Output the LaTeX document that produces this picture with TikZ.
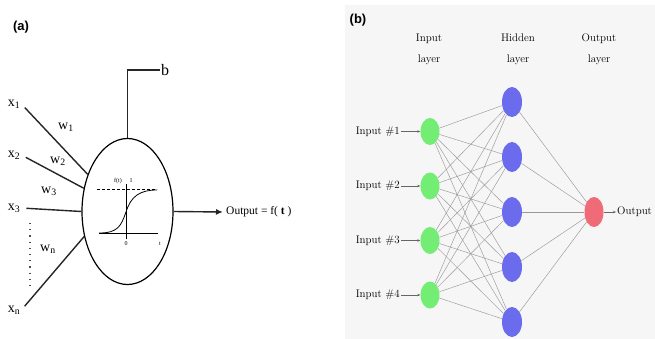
\documentclass[tikz,border=0pt]{standalone}
\usepackage{fontspec}
\newfontfamily\timesfont{Liberation Serif}
\newfontfamily\tagfont{Liberation Sans}
\usetikzlibrary{shapes.geometric,arrows.meta}

\definecolor{ingreen}{rgb}{0.45,0.93,0.45}
\definecolor{hidblue}{rgb}{0.42,0.42,0.93}
\definecolor{outred}{rgb}{0.94,0.42,0.47}
\definecolor{panelgray}{rgb}{0.965,0.965,0.965}

\begin{document}
\begin{tikzpicture}[x=1pt,y=-1pt,
  paneltag/.style={font=\tagfont\bfseries\fontsize{13}{13}\selectfont, inner sep=0pt},
  serif/.style={font=\timesfont\fontsize{14}{14}\selectfont, inner sep=1pt},
  smallserif/.style={font=\timesfont\fontsize{6}{6}\selectfont, inner sep=0pt},
  wire/.style={line width=1.4pt, draw=black!85},
  netlabel/.style={font=\fontsize{11}{21}\selectfont, align=center, inner sep=1pt},
  unit/.style={ellipse, inner sep=0pt, draw=none},
  inunit/.style={unit, fill=ingreen, minimum width=19pt, minimum height=27pt},
  hidunit/.style={unit, fill=hidblue, minimum width=20pt, minimum height=30pt},
  outunit/.style={unit, fill=outred, minimum width=19pt, minimum height=30pt},
  synapse/.style={draw=black!40, line width=0.45pt},
  feed/.style={draw=black!60, line width=0.5pt, -{Stealth[length=3pt,width=2.5pt]}}
]
\clip (0,0) rectangle (655,339);
\fill[white] (0,0) rectangle (655,339);

% ---------- (a) single neuron ----------
\node[paneltag] (taga) at (21,27) {(a)};

\node[draw, ellipse, line width=1.2pt, minimum width=91pt, minimum height=146pt, inner sep=0pt]
  (neuron) at (127.5,211.5) {};

% inputs and weights
\node[serif] (x1) at (14,104) {x\textsubscript{1}};
\node[serif] (x2) at (14,155) {x\textsubscript{2}};
\node[serif] (x3) at (14,208) {x\textsubscript{3}};
\node[serif] (xn) at (14,310) {x\textsubscript{n}};
\node[serif] (w1) at (66,127) {w\textsubscript{1}};
\node[serif] (w2) at (58,161) {w\textsubscript{2}};
\node[serif] (w3) at (49,191) {w\textsubscript{3}};
\node[serif] (wn) at (48,249) {w\textsubscript{n}};

\draw[wire, shorten <=5pt] (x1.east) -- (neuron.137);
\draw[wire, shorten <=5pt] (x2.east) -- (neuron.152);
\draw[wire, shorten <=5pt] (x3.east) -- (neuron.west);
\draw[wire, shorten <=5pt] (xn.east) -- (neuron.210);

\coordinate (dottop) at (30,223);
\coordinate (dotbot) at (30,286);
\draw[line width=1.2pt, dash pattern=on 1.2pt off 5pt, draw=black!70] (dottop) -- (dotbot);

% bias
\node[serif, font=\timesfont\fontsize{16}{16}\selectfont] (b) at (165,70) {b};
\draw[wire] (neuron.north) |- (b.west);

% output
\node[serif, font=\timesfont\fontsize{11.5}{11.5}\selectfont, anchor=west, inner sep=3pt]
  (outa) at (223,212) {Output = f( \textbf{t} )};
\draw[wire, -{Latex[length=7pt,width=6pt]}] (neuron.east) -- (outa.west);

% activation curve inside the neuron
\draw[line width=0.6pt, densely dashed] (97,189) -- (157,189);
\draw[line width=0.8pt] (126,184) -- (126,239);
\draw[line width=0.8pt] (99,233) -- (158,233);
\draw[line width=0.8pt] (99,233) .. controls (118,233) and (121,226) .. (126,212)
  .. controls (131,196) and (140,190) .. (157,190);
\node[smallserif] (ft) at (118,181) {f(t)};
\node[smallserif] (one) at (131,181) {1};
\node[smallserif] (zero) at (126,244) {0};
\node[smallserif] (tt) at (160,244) {t};

% ---------- (b) feed-forward network ----------
\fill[panelgray] (345,5) rectangle (655,339);
\node[paneltag] (tagb) at (358,20) {(b)};

\node[netlabel] (linput) at (429,49) {Input\\layer};
\node[netlabel] (lhidden) at (518,49) {Hidden\\layer};
\node[netlabel] (loutput) at (599,49) {Output\\layer};

\foreach \i/\y in {1/131.5,2/186,3/240.5,4/295} {
  \node[inunit] (in\i) at (430,\y) {};
  \node[netlabel, anchor=east] (inlab\i) at (401,\y) {Input \#\i};
  \draw[feed] (inlab\i.east) -- (in\i.west);
}
\foreach \h/\y in {1/102,2/157,3/212,4/267,5/322} {
  \node[hidunit] (hid\h) at (512,\y) {};
}
\node[outunit] (out) at (594,212) {};
\node[netlabel, anchor=west] (outlab) at (616,212) {Output};
\draw[feed] (out.east) -- (outlab.west);

\foreach \i in {1,...,4} {
  \foreach \h in {1,...,5} {
    \draw[synapse] (in\i) -- (hid\h);
  }
}
\foreach \h in {1,...,5} {
  \draw[synapse] (hid\h) -- (out);
}
\end{tikzpicture}
\end{document}
